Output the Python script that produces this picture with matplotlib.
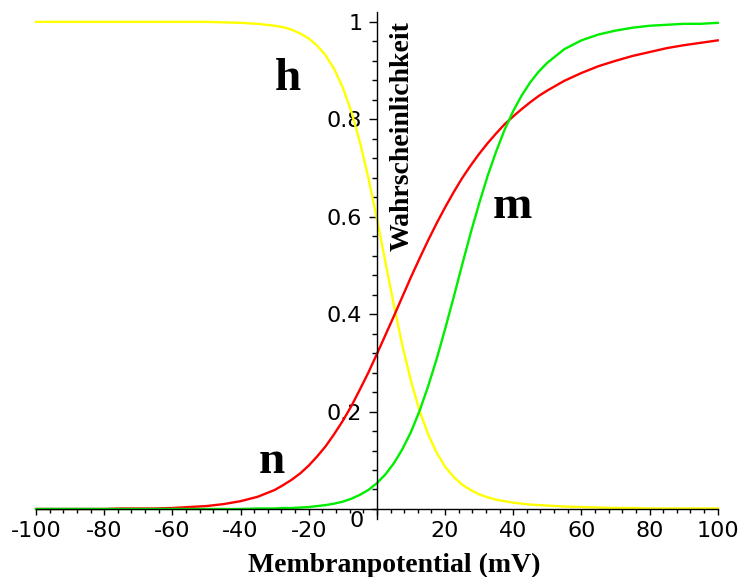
import matplotlib
matplotlib.use('Agg')
import matplotlib.pyplot as plt
from matplotlib.ticker import MultipleLocator

# membrane potential (mV): every 5 mV in the flat parts, every 2.5 mV where the curves are steep
V = [-100, -95, -90, -85, -80, -75, -70, -65, -60, -55, -50, -45, -40, -35, -30,
     -27.5, -25, -22.5, -20, -17.5, -15, -12.5, -10, -7.5, -5, -2.5, 0, 2.5, 5, 7.5, 10,
     12.5, 15, 17.5, 20, 22.5, 25, 27.5, 30, 32.5, 35, 37.5, 40, 42.5, 45, 47.5,
     50, 55, 60, 65, 70, 75, 80, 85, 90, 95, 100]

h = [1.000, 1.000, 1.000, 1.000, 1.000, 1.000, 1.000, 1.000, 1.000, 1.000, 1.000, 0.999, 0.998, 0.996, 0.992,
     0.989, 0.984, 0.976, 0.966, 0.951, 0.931, 0.903, 0.865, 0.816, 0.754, 0.680, 0.596, 0.507, 0.418, 0.335, 0.263,
     0.202, 0.154, 0.116, 0.087, 0.066, 0.050, 0.039, 0.030, 0.024, 0.019, 0.016, 0.013, 0.011, 0.009, 0.008,
     0.007, 0.005, 0.004, 0.003, 0.002, 0.002, 0.001, 0.001, 0.001, 0.001, 0.001]

n = [0.000, 0.000, 0.000, 0.000, 0.000, 0.001, 0.001, 0.001, 0.002, 0.004, 0.006, 0.010, 0.016, 0.025, 0.039,
     0.049, 0.060, 0.073, 0.089, 0.108, 0.129, 0.154, 0.181, 0.211, 0.245, 0.280, 0.318, 0.357, 0.396, 0.436, 0.476,
     0.514, 0.551, 0.586, 0.619, 0.650, 0.679, 0.705, 0.729, 0.751, 0.771, 0.790, 0.806, 0.821, 0.835, 0.848,
     0.859, 0.879, 0.895, 0.909, 0.920, 0.930, 0.938, 0.946, 0.952, 0.957, 0.962]

m = [0.000, 0.000, 0.000, 0.000, 0.000, 0.000, 0.000, 0.000, 0.000, 0.000, 0.000, 0.000, 0.000, 0.001, 0.001,
     0.002, 0.002, 0.003, 0.004, 0.006, 0.008, 0.011, 0.015, 0.021, 0.029, 0.039, 0.053, 0.071, 0.094, 0.123, 0.158,
     0.201, 0.251, 0.307, 0.369, 0.434, 0.501, 0.566, 0.627, 0.684, 0.734, 0.779, 0.817, 0.849, 0.876, 0.898,
     0.916, 0.944, 0.962, 0.974, 0.982, 0.988, 0.992, 0.994, 0.996, 0.996, 0.998]

xticks = [-100, -80, -60, -40, -20, 0, 20, 40, 60, 80, 100]
xticklabels = ['-100', '-80', '-60', '-40', '-20', '', '20', '40', '60', '80', '100']
yticks = [0.2, 0.4, 0.6, 0.8, 1.0]
yticklabels = ['0.2', '0.4', '0.6', '0.8', '1']

fig = plt.figure(figsize=(7.41, 5.77), dpi=100)
ax = fig.add_axes([0.0486, 0.101, 0.920, 0.878])

ax.plot(V, h, color='#ffff00', lw=1.7, clip_on=False)
ax.plot(V, n, color='#ff0000', lw=1.7, clip_on=False)
ax.plot(V, m, color='#00ee00', lw=1.7, clip_on=False)

ax.set_xlim(-100, 100)
ax.set_ylim(-0.02, 1.02)

ax.spines['top'].set_visible(False)
ax.spines['right'].set_visible(False)
ax.spines['left'].set_position(('data', 0))
ax.spines['bottom'].set_position(('data', 0))
ax.spines['left'].set_linewidth(1.0)
ax.spines['bottom'].set_linewidth(1.0)

ax.set_xticks(xticks)
ax.set_xticklabels(xticklabels)
ax.set_yticks(yticks)
ax.set_yticklabels(yticklabels)
ax.xaxis.set_minor_locator(MultipleLocator(4))
ax.yaxis.set_minor_locator(MultipleLocator(0.04))
ax.tick_params(axis='x', which='major', direction='out', length=4, width=1, pad=4.5, labelsize=16)
ax.tick_params(axis='x', which='minor', direction='out', length=3, width=1)
ax.tick_params(axis='y', which='major', direction='out', length=6, width=1, pad=4.5, labelsize=16)
ax.tick_params(axis='y', which='minor', direction='out', length=3.5, width=1)

ax.text(-6.0, -0.005, '0', fontsize=16, ha='center', va='top')

serif = 'Liberation Serif'
ax.text(-26.2, 0.860, 'h', fontsize=34, fontweight='bold', family=serif, ha='center', va='baseline')
ax.text(39.7, 0.598, 'm', fontsize=34, fontweight='bold', family=serif, ha='center', va='baseline')
ax.text(-30.8, 0.074, 'n', fontsize=34, fontweight='bold', family=serif, ha='center', va='baseline')

ax.text(3.7, 0.765, 'Wahrscheinlichkeit', rotation=90, fontsize=20, fontweight='bold', family=serif,
        ha='left', va='center')
fig.text(394 / 741, 5 / 577, 'Membranpotential (mV)', fontsize=20, fontweight='bold', family=serif,
         ha='center', va='baseline')

fig.savefig('out.png', dpi=100)
